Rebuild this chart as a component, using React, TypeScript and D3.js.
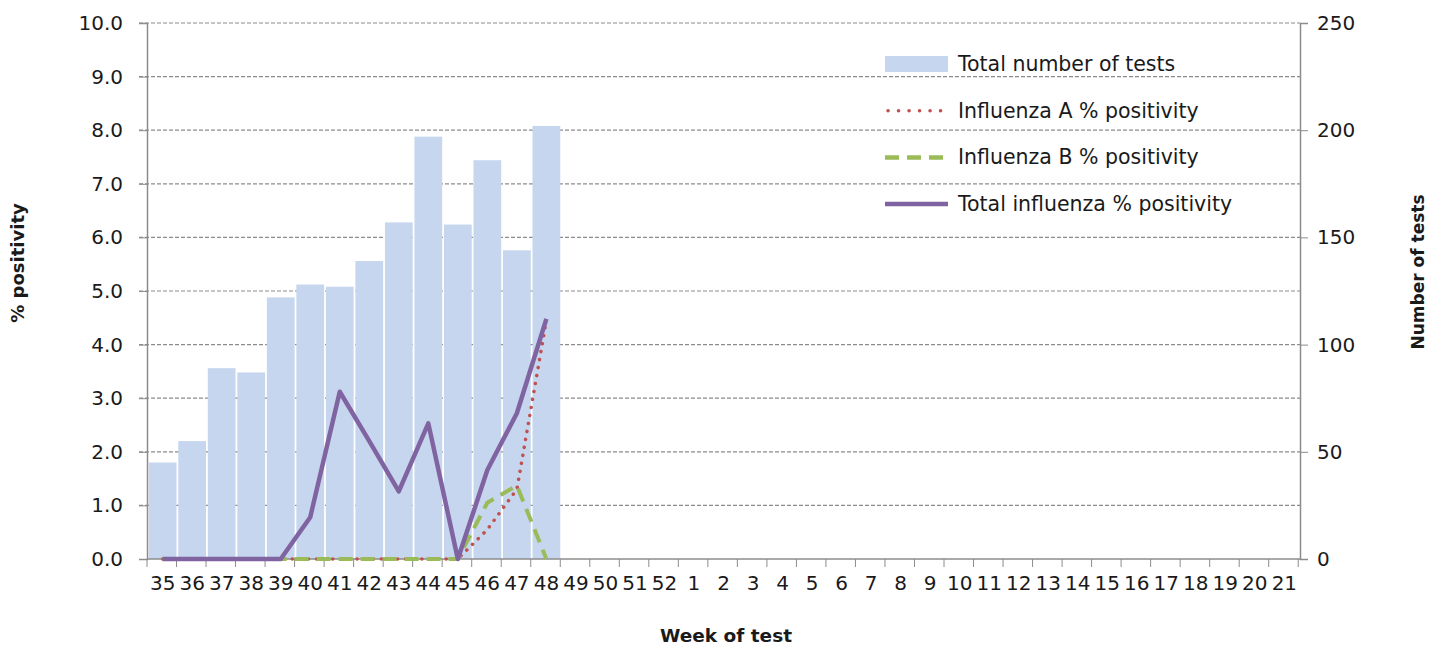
import { useEffect, useRef } from "react";
import * as d3 from "d3";

const weeks = [
  "35", "36", "37", "38", "39", "40", "41", "42", "43", "44", "45", "46", "47", "48",
  "49", "50", "51", "52", "1", "2", "3", "4", "5", "6", "7", "8", "9", "10", "11",
  "12", "13", "14", "15", "16", "17", "18", "19", "20", "21",
];

// only weeks 35..48 have data so far
const totalTests = [45, 55, 89, 87, 122, 128, 127, 139, 157, 197, 156, 186, 144, 202];
const fluA = [0, 0, 0, 0, 0, 0, 0, 0, 0, 0, 0, 0.55, 1.3, 4.45];
const fluB = [0, 0, 0, 0, 0, 0, 0, 0, 0, 0, 0, 1.05, 1.37, 0];
const fluTotal = [0, 0, 0, 0, 0, 0.78, 3.12, 2.2, 1.26, 2.53, 0, 1.66, 2.72, 4.48];

const leftTicks = [0, 1, 2, 3, 4, 5, 6, 7, 8, 9, 10];
const rightTicks = [0, 50, 100, 150, 200, 250];

const FONT = "'DejaVu Sans', Verdana, sans-serif";

function renderChart(element: SVGSVGElement) {
  const margin = { top: 23, right: 129, bottom: 86, left: 147 },
    fullW = 1429,
    fullH = 645,
    width = fullW - margin.left - margin.right,
    height = fullH - margin.top - margin.bottom;

  const root = d3.select(element);
  root.selectAll("*").remove();
  const svg = root
    .append("g")
    .attr("transform", `translate(${margin.left},${margin.top})`);

  const x = d3.scaleBand().domain(weeks).range([0, width]).padding(0.06);
  const xPoint = (i: number) => x(weeks[i])! + x.bandwidth() / 2;
  const yL = d3.scaleLinear().domain([0, 10]).range([height, 0]);
  const yR = d3.scaleLinear().domain([0, 250]).range([height, 0]);

  // gridlines
  svg
    .append("g")
    .selectAll("line")
    .data(leftTicks.slice(1))
    .join("line")
    .attr("x1", -8)
    .attr("x2", width)
    .attr("y1", (d) => yL(d))
    .attr("y2", (d) => yL(d))
    .attr("stroke", "#8c8c8c")
    .attr("stroke-width", 1.2)
    .attr("stroke-dasharray", "4,2");

  // bars
  svg
    .append("g")
    .selectAll("rect")
    .data(totalTests)
    .join("rect")
    .attr("x", (_, i) => x(weeks[i])!)
    .attr("y", (d) => yR(d))
    .attr("width", x.bandwidth())
    .attr("height", (d) => height - yR(d))
    .attr("fill", "#c6d6ee");

  // left axis
  const left = svg
    .append("g")
    .call(
      d3
        .axisLeft(yL)
        .tickValues(leftTicks)
        .tickFormat(d3.format(".1f"))
        .tickSize(8)
        .tickPadding(16)
    );
  left.selectAll("text").attr("font-size", 20).attr("font-family", FONT).attr("fill", "#1a1a1a");
  left.selectAll("line").attr("stroke", "#8c8c8c");
  left.select(".domain").attr("stroke", "#8c8c8c").attr("stroke-width", 1.5);

  // right axis
  const right = svg
    .append("g")
    .attr("transform", `translate(${width},0)`)
    .call(d3.axisRight(yR).tickValues(rightTicks).tickSize(8).tickPadding(9));
  right.selectAll("text").attr("font-size", 20).attr("font-family", FONT).attr("fill", "#1a1a1a");
  right.selectAll("line").attr("stroke", "#8c8c8c");
  right.select(".domain").attr("stroke", "#8c8c8c").attr("stroke-width", 1.5);
  // short dashed ends of the minor gridlines at the right axis
  right
    .selectAll("line.minor")
    .data(leftTicks.slice(1))
    .join("line")
    .attr("class", "minor")
    .attr("x1", 0)
    .attr("x2", 0)
    .attr("y1", (d) => yL(d))
    .attr("y2", (d) => yL(d));

  // x axis with ticks on band edges
  const bottom = svg.append("g").attr("transform", `translate(0,${height})`);
  bottom
    .append("line")
    .attr("x1", 0)
    .attr("x2", width)
    .attr("stroke", "#8c8c8c")
    .attr("stroke-width", 1.5);
  const step = x.step();
  bottom
    .selectAll("line.tick")
    .data(d3.range(weeks.length + 1))
    .join("line")
    .attr("class", "tick")
    .attr("x1", (i) => i * step)
    .attr("x2", (i) => i * step)
    .attr("y1", 0)
    .attr("y2", 8)
    .attr("stroke", "#8c8c8c");
  bottom
    .selectAll("text")
    .data(weeks)
    .join("text")
    .attr("x", (d) => x(d)! + x.bandwidth() / 2)
    .attr("y", 31)
    .attr("text-anchor", "middle")
    .attr("font-size", 20)
    .attr("font-family", FONT)
    .attr("fill", "#1a1a1a")
    .text((d) => d);

  // lines
  const line = d3
    .line<number>()
    .x((_, i) => xPoint(i))
    .y((d) => yL(d));

  svg
    .append("path")
    .datum(fluA)
    .attr("d", line)
    .attr("fill", "none")
    .attr("stroke", "#c0504d")
    .attr("stroke-width", 3.5)
    .attr("stroke-linecap", "round")
    .attr("stroke-dasharray", "0.1,8");
  svg
    .append("path")
    .datum(fluB)
    .attr("d", line)
    .attr("fill", "none")
    .attr("stroke", "#9bbb59")
    .attr("stroke-width", 4)
    .attr("stroke-dasharray", "14,8");
  svg
    .append("path")
    .datum(fluTotal)
    .attr("d", line)
    .attr("fill", "none")
    .attr("stroke", "#8064a2")
    .attr("stroke-width", 4.5)
    .attr("stroke-linejoin", "round");

  // legend
  const lg = root.append("g").attr("transform", "translate(885,0)");
  const rows = [
    { label: "Total number of tests", kind: "bar" },
    { label: "Influenza A % positivity", kind: "a" },
    { label: "Influenza B % positivity", kind: "b" },
    { label: "Total influenza % positivity", kind: "t" },
  ];
  rows.forEach((r, i) => {
    const cy = 64 + i * 46.7;
    if (r.kind === "bar") {
      lg.append("rect").attr("x", 0).attr("y", cy - 8).attr("width", 63).attr("height", 16).attr("fill", "#c6d6ee");
    } else {
      const l = lg
        .append("line")
        .attr("x1", r.kind === "a" ? 3 : 0)
        .attr("x2", 63)
        .attr("y1", cy)
        .attr("y2", cy);
      if (r.kind === "a")
        l.attr("stroke", "#c0504d").attr("stroke-width", 3.5).attr("stroke-linecap", "round").attr("stroke-dasharray", "0.1,10.4");
      if (r.kind === "b") l.attr("stroke", "#9bbb59").attr("stroke-width", 4.5).attr("stroke-dasharray", "14,8");
      if (r.kind === "t") l.attr("stroke", "#8064a2").attr("stroke-width", 4.5);
    }
    lg.append("text")
      .attr("x", 73)
      .attr("y", cy + 7)
      .attr("font-size", 20.5)
      .attr("font-family", FONT)
      .attr("fill", "#1a1a1a")
      .text(r.label);
  });

  // axis titles
  root
    .append("text")
    .attr("transform", "translate(24,263) rotate(-90)")
    .attr("text-anchor", "middle")
    .attr("font-size", 18)
    .attr("font-weight", "bold")
    .attr("font-family", FONT)
    .attr("fill", "#1a1a1a")
    .text("% positivity");
  root
    .append("text")
    .attr("transform", "translate(1424,272) rotate(-90)")
    .attr("text-anchor", "middle")
    .attr("font-size", 17)
    .attr("font-weight", "bold")
    .attr("font-family", FONT)
    .attr("fill", "#1a1a1a")
    .text("Number of tests");
  root
    .append("text")
    .attr("x", 726)
    .attr("y", 642)
    .attr("text-anchor", "middle")
    .attr("font-size", 18.5)
    .attr("font-weight", "bold")
    .attr("font-family", FONT)
    .attr("fill", "#1a1a1a")
    .text("Week of test");
}

export default function App() {
  const ref = useRef<SVGSVGElement>(null);
  useEffect(() => {
    if (ref.current) renderChart(ref.current);
  }, []);
  return (
    <svg
      ref={ref}
      width={1429}
      height={645}
      style={{ position: "absolute", left: 0, top: 0, background: "#fff" }}
    />
  );
}
